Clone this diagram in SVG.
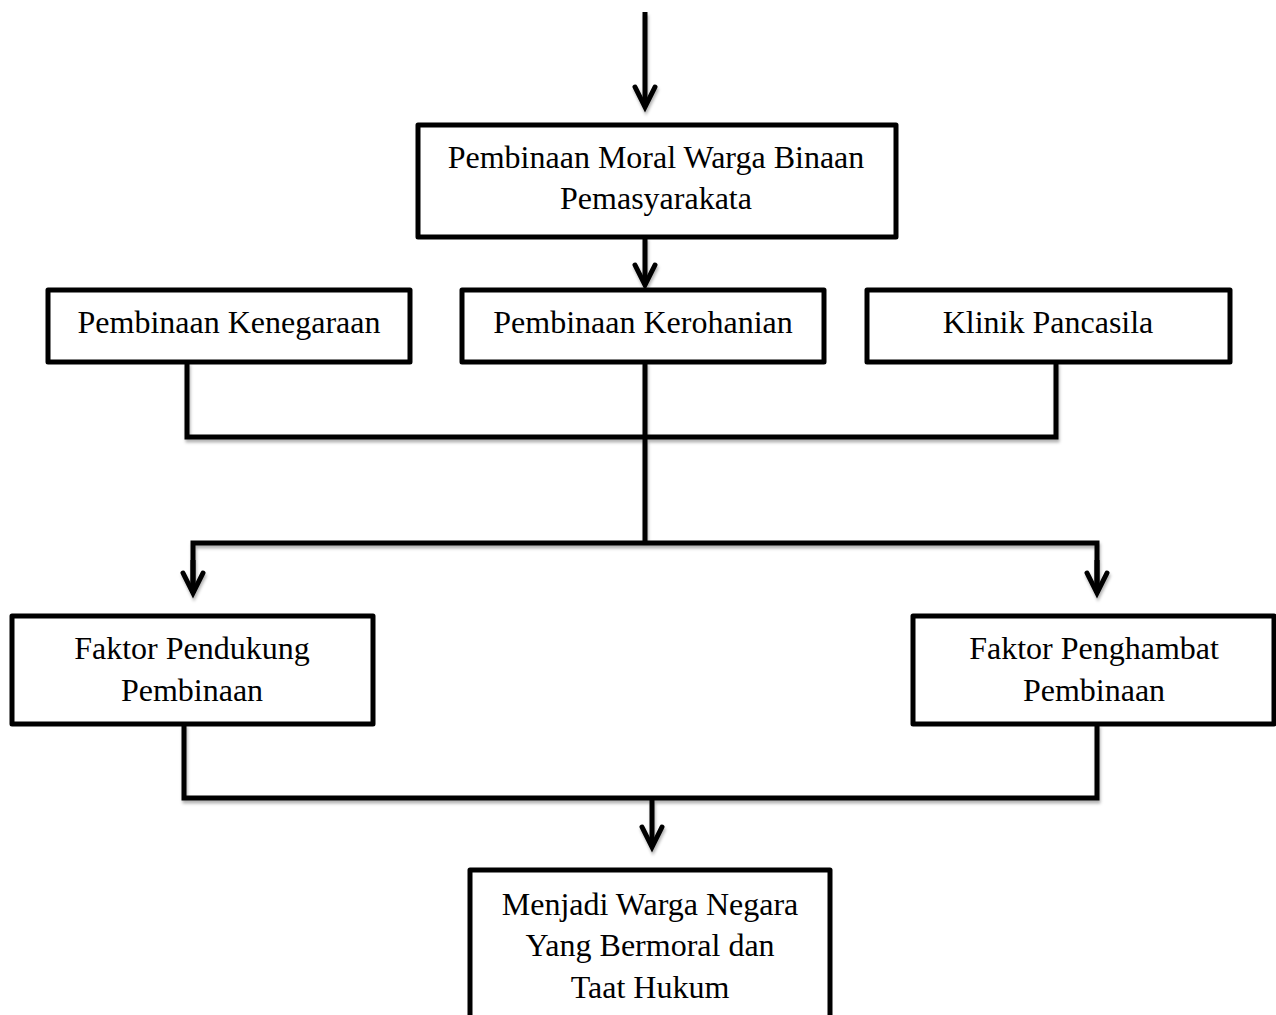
<svg xmlns="http://www.w3.org/2000/svg" width="1276" height="1015" viewBox="0 0 1276 1015">
<defs>
<filter id="sh" x="-5%" y="-5%" width="110%" height="120%">
<feDropShadow dx="1" dy="3" stdDeviation="1.5" flood-color="#000" flood-opacity="0.3"/>
</filter>
<marker id="chev" markerUnits="userSpaceOnUse" orient="auto" refX="0" refY="0" markerWidth="40" markerHeight="40" viewBox="-30 -20 40 40" overflow="visible">
<path d="M-20,-10 L0,0 L-20,10" fill="none" stroke="#000" stroke-width="5" stroke-linecap="round" stroke-linejoin="miter"/>
</marker>
<style>
.box{fill:#fff;stroke:#000;stroke-width:5;stroke-linejoin:round}
.t{font-family:"Liberation Serif","Times New Roman",serif;font-size:32px;fill:#000;text-anchor:middle}
.c{fill:none;stroke:#000;stroke-width:5;stroke-linejoin:miter}
</style>
</defs>
<g id="connectors" filter="url(#sh)">
<path class="c" d="M645,12 L645,107" marker-end="url(#chev)"/>
<path class="c" d="M645,237 L645,285" marker-end="url(#chev)"/>
<path class="c" d="M187,362 L187,437 L1056,437 L1056,362"/>
<path class="c" d="M645,362 L645,543"/>
<path class="c" d="M193,593 L193,543 L1097,543 L1097,593"/>
<path class="c" d="M193,560 L193,593" marker-end="url(#chev)"/>
<path class="c" d="M1097,560 L1097,593" marker-end="url(#chev)"/>
<path class="c" d="M184,724 L184,798 L1097,798 L1097,724"/>
<path class="c" d="M652,798 L652,847" marker-end="url(#chev)"/>
</g>
<g id="node-moral">
<rect class="box" x="418" y="125" width="478" height="112"/>
<text class="t" x="656" y="168">Pembinaan Moral Warga Binaan</text>
<text class="t" x="656" y="209">Pemasyarakata</text>
</g>
<g id="node-kenegaraan">
<rect class="box" x="48" y="290" width="362" height="72"/>
<text class="t" x="229" y="333">Pembinaan Kenegaraan</text>
</g>
<g id="node-kerohanian">
<rect class="box" x="462" y="290" width="362" height="72"/>
<text class="t" x="643" y="333">Pembinaan Kerohanian</text>
</g>
<g id="node-klinik">
<rect class="box" x="867" y="290" width="363" height="72"/>
<text class="t" x="1048" y="333">Klinik Pancasila</text>
</g>
<g id="node-pendukung">
<rect class="box" x="12" y="616" width="361" height="108"/>
<text class="t" x="192" y="659">Faktor Pendukung</text>
<text class="t" x="192" y="701">Pembinaan</text>
</g>
<g id="node-penghambat">
<rect class="box" x="913" y="616" width="361" height="108"/>
<text class="t" x="1094" y="659">Faktor Penghambat</text>
<text class="t" x="1094" y="701">Pembinaan</text>
</g>
<g id="node-hasil">
<rect class="box" x="470" y="870" width="360" height="160"/>
<text class="t" x="650" y="915">Menjadi Warga Negara</text>
<text class="t" x="650" y="956">Yang Bermoral dan</text>
<text class="t" x="650" y="998">Taat Hukum</text>
</g>
</svg>
